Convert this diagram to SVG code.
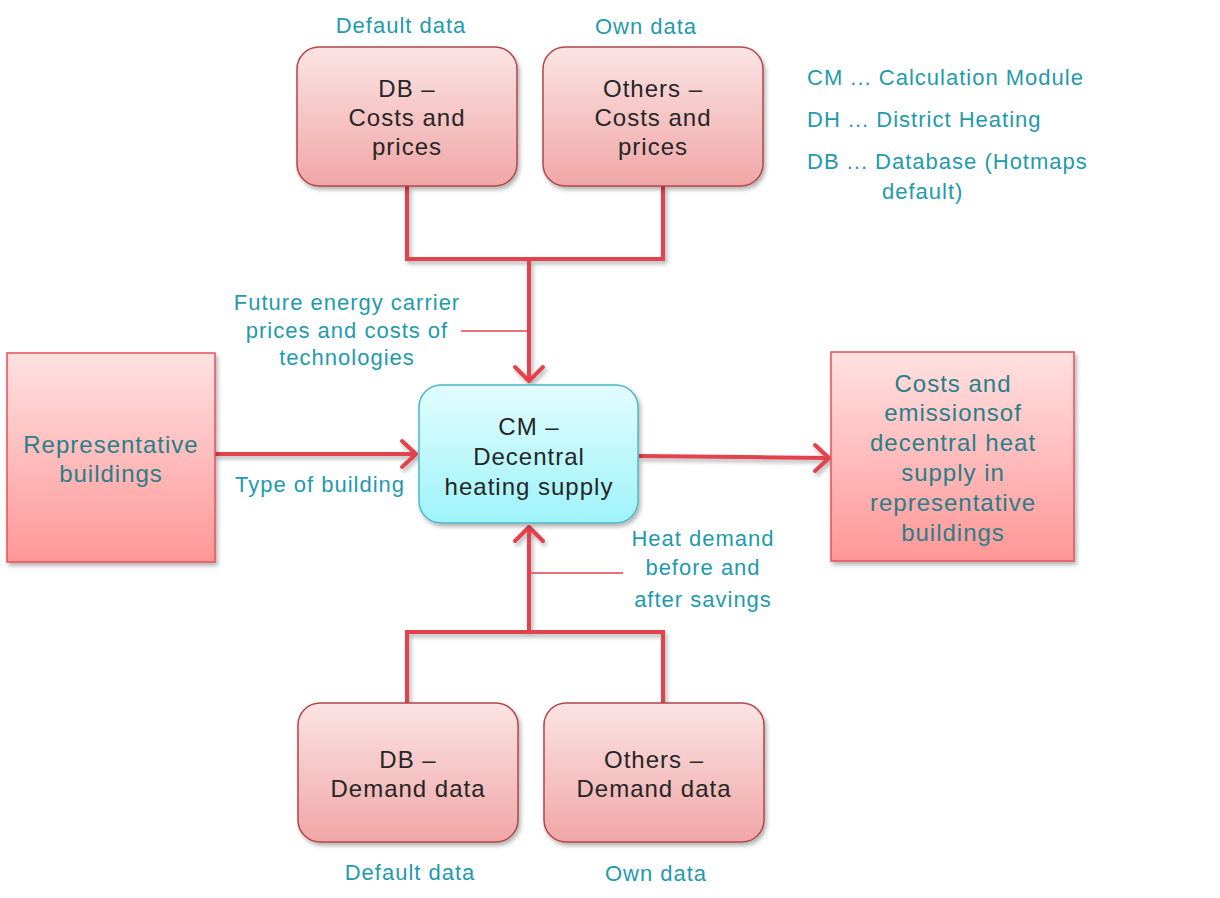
<svg xmlns="http://www.w3.org/2000/svg" width="1220" height="898" viewBox="0 0 1220 898">
<style>
text{font-family:"Liberation Sans",Arial,sans-serif;text-anchor:middle}
.bt{font-size:24px;letter-spacing:1px;fill:#262626}
.pt{font-size:24px;letter-spacing:1px;fill:#2a7e89}
.lb{font-size:22px;letter-spacing:1px;fill:#1f9aae}
.lg{font-size:22px;letter-spacing:1px;fill:#1f9aae;text-anchor:start}
.rb{fill:url(#gRound);stroke:#b2464a;stroke-width:1.5}
.sq{fill:url(#gSq);stroke:#e6505a;stroke-width:1.5}
.cn{fill:none;stroke:#e1434b;stroke-width:4}
.ah{fill:none;stroke:#e1434b;stroke-width:4;stroke-linecap:round;stroke-linejoin:round}
.ld{fill:none;stroke:#e1434b;stroke-width:1.5}
</style>
<defs>
<linearGradient id="gRound" x1="0" y1="0" x2="0" y2="1">
<stop offset="0" stop-color="#fbe4e4"/><stop offset="1" stop-color="#f0a6a6"/>
</linearGradient>
<linearGradient id="gSq" x1="0" y1="0" x2="0" y2="1">
<stop offset="0" stop-color="#ffe1e1"/><stop offset="1" stop-color="#ff9797"/>
</linearGradient>
<linearGradient id="gCy" x1="0" y1="0" x2="0" y2="1">
<stop offset="0" stop-color="#e2fdff"/><stop offset="1" stop-color="#9ef3fa"/>
</linearGradient>
<filter id="sh" x="-10%" y="-10%" width="125%" height="125%">
<feDropShadow dx="2" dy="3" stdDeviation="2" flood-color="#000" flood-opacity="0.3"/>
</filter>
</defs>
<rect width="1220" height="898" fill="#fff"/>

<g id="connectors" filter="url(#sh)">
<path class="cn" d="M407,186 V259 H663 V186"/>
<path class="cn" d="M529,259 V381"/>
<path class="ah" d="M515,367 L529,381 L543,367"/>
<path class="cn" d="M215,454 H416"/>
<path class="ah" d="M402,441 L416,454 L402,467"/>
<path class="cn" d="M639,456 L829,458"/>
<path class="ah" d="M815,445 L829,458 L815,471"/>
<path class="cn" d="M407,704 V632 H663 V704"/>
<path class="cn" d="M529,632 V527"/>
<path class="ah" d="M515,541 L529,527 L543,541"/>
</g>
<g id="leaders">
<path class="ld" d="M461,331 H529"/>
<path class="ld" d="M529,573 H623"/>
</g>

<g id="db-costs">
<rect class="rb" x="297" y="47" width="220" height="139" rx="22" filter="url(#sh)"/>
<text class="bt" x="407" y="97">DB –</text>
<text class="bt" x="407" y="126">Costs and</text>
<text class="bt" x="407" y="155">prices</text>
<text class="lb" x="401" y="33">Default data</text>
</g>
<g id="others-costs">
<rect class="rb" x="543" y="47" width="220" height="139" rx="22" filter="url(#sh)"/>
<text class="bt" x="653" y="97">Others –</text>
<text class="bt" x="653" y="126">Costs and</text>
<text class="bt" x="653" y="155">prices</text>
<text class="lb" x="646" y="34">Own data</text>
</g>

<g id="legend">
<text class="lg" x="807" y="85">CM ... Calculation Module</text>
<text class="lg" x="807" y="127">DH ... District Heating</text>
<text class="lg" x="807" y="169">DB ... Database (Hotmaps</text>
<text class="lg" x="882" y="199">default)</text>
</g>

<g id="label-future">
<text class="lb" x="347" y="310">Future energy carrier</text>
<text class="lb" x="347" y="338">prices and costs of</text>
<text class="lb" x="347" y="365">technologies</text>
</g>

<g id="rep-buildings">
<rect class="sq" x="7" y="353" width="208" height="209" filter="url(#sh)"/>
<text class="pt" x="111" y="453">Representative</text>
<text class="pt" x="111" y="482">buildings</text>
</g>
<text class="lb" x="320" y="492">Type of building</text>

<g id="cm">
<rect x="419" y="385" width="219" height="138" rx="22" fill="url(#gCy)" stroke="#4db7c6" stroke-width="1.5" filter="url(#sh)"/>
<text class="bt" x="529" y="435">CM –</text>
<text class="bt" x="529" y="465">Decentral</text>
<text class="bt" x="529" y="495">heating supply</text>
</g>

<g id="result">
<rect class="sq" x="831" y="352" width="243" height="209" filter="url(#sh)"/>
<text class="pt" x="953" y="392">Costs and</text>
<text class="pt" x="953" y="421">emissionsof</text>
<text class="pt" x="953" y="451">decentral heat</text>
<text class="pt" x="953" y="481">supply in</text>
<text class="pt" x="953" y="511">representative</text>
<text class="pt" x="953" y="541">buildings</text>
</g>

<g id="label-heat">
<text class="lb" x="703" y="546">Heat demand</text>
<text class="lb" x="703" y="575">before and</text>
<text class="lb" x="703" y="607">after savings</text>
</g>

<g id="db-demand">
<rect class="rb" x="298" y="703" width="220" height="139" rx="22" filter="url(#sh)"/>
<text class="bt" x="408" y="768">DB –</text>
<text class="bt" x="408" y="797">Demand data</text>
<text class="lb" x="410" y="880">Default data</text>
</g>
<g id="others-demand">
<rect class="rb" x="544" y="703" width="220" height="139" rx="22" filter="url(#sh)"/>
<text class="bt" x="654" y="768">Others –</text>
<text class="bt" x="654" y="797">Demand data</text>
<text class="lb" x="656" y="881">Own data</text>
</g>
</svg>
